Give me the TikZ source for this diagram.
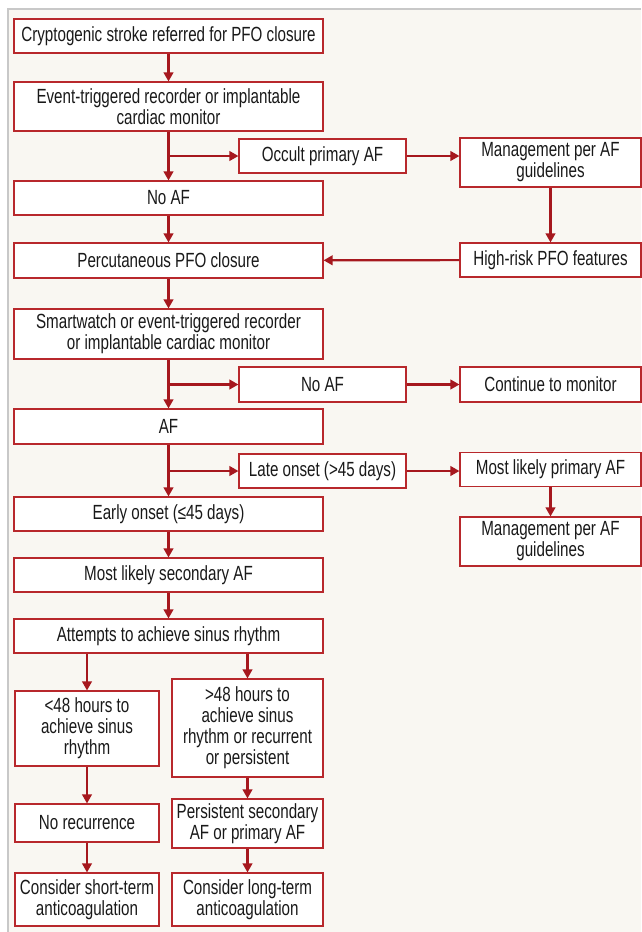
\documentclass[tikz,border=0pt]{standalone}
\usepackage{fontspec}
\setmainfont{Liberation Sans}[FakeStretch=0.74]
\usetikzlibrary{arrows.meta}
\definecolor{boxred}{RGB}{184,40,44}
\definecolor{arrred}{RGB}{166,24,30}
\definecolor{paper}{RGB}{249,247,242}
\definecolor{rule}{RGB}{200,200,200}
\tikzset{
  box/.style={draw=boxred,line width=1.1pt,fill=white,align=center,inner sep=0pt,
    font=\fontsize{20.5}{21}\selectfont,text=black!90},
  mainbox/.style={box,minimum width=309pt},
  sidebox/.style={box,minimum width=167pt},
  farbox/.style={box,minimum width=181pt},
  leftbox/.style={box,minimum width=144pt},
  rightbox/.style={box,minimum width=151pt},
  flow/.style={draw=arrred,line width=2.2pt,-{Triangle[length=9pt,width=9.5pt]}}
}
\begin{document}
\begin{tikzpicture}[x=1pt,y=-1pt]
\useasboundingbox (0,0) rectangle (641,932);
\fill [white] (0,0) rectangle (641,932);
\fill [paper] (7.5,8.5) rectangle (641,932);
\draw [rule,line width=2pt] (7.5,932) -- (7.5,8.5) -- (641,8.5);
\node [mainbox,minimum height=34pt] (stroke) at (168.5,36) {Cryptogenic stroke referred for PFO closure};
\node [mainbox,minimum height=49pt] (recorder) at (168.5,106.5) {Event-triggered recorder or implantable\\cardiac monitor};
\node [sidebox,minimum height=34pt] (occult) at (322.5,156) {Occult primary AF};
\node [farbox,minimum height=49pt] (mgmtA) at (550.5,162.5) {Management per AF\\guidelines};
\node [mainbox,minimum height=34pt] (noafA) at (168.5,198) {No AF};
\node [farbox,minimum height=34pt] (highrisk) at (550.5,260) {High-risk PFO features};
\node [mainbox,minimum height=35pt] (percut) at (168.5,260.5) {Percutaneous PFO closure};
\node [mainbox,minimum height=50pt] (smart) at (168.5,334) {Smartwatch or event-triggered recorder\\or implantable cardiac monitor};
\node [sidebox,minimum height=35pt] (noafB) at (322.5,384.5) {No AF};
\node [farbox,minimum height=35pt] (monitor) at (550.5,384.5) {Continue to monitor};
\node [mainbox,minimum height=35pt] (af) at (168.5,426.5) {AF};
\node [sidebox,minimum height=34pt] (late) at (322.5,471) {Late onset (>45 days)};
\node [farbox,minimum height=34pt] (primary) at (550.5,469.5) {Most likely primary AF};
\node [mainbox,minimum height=34pt] (early) at (168.5,514) {Early onset (≤45 days)};
\node [farbox,minimum height=49pt] (mgmtB) at (550.5,541.5) {Management per AF\\guidelines};
\node [mainbox,minimum height=34pt] (secondary) at (168.5,575) {Most likely secondary AF};
\node [mainbox,minimum height=34pt] (attempts) at (168.5,636) {Attempts to achieve sinus rhythm};
\node [leftbox,minimum height=75pt] (under48) at (87,728.5) {<48 hours to\\achieve sinus\\rhythm};
\node [rightbox,minimum height=98pt] (over48) at (247.5,728) {>48 hours to\\achieve sinus\\rhythm or recurrent\\or persistent};
\node [leftbox,minimum height=38pt] (norec) at (87,823) {No recurrence};
\node [rightbox,minimum height=49pt] (persist) at (247.5,823.5) {Persistent secondary\\AF or primary AF};
\node [leftbox,minimum height=53pt] (shortac) at (87,899.5) {Consider short-term\\anticoagulation};
\node [rightbox,minimum height=53pt] (longac) at (247.5,899.5) {Consider long-term\\anticoagulation};
\coordinate (splitA) at (recorder.south |- occult.west);
\coordinate (splitB) at (smart.south |- noafB.west);
\coordinate (splitC) at (af.south |- late.west);
\draw [flow] (stroke) -- (recorder);
\draw [flow] (recorder) -- (noafA);
\draw [flow] ([xshift=1.1pt]splitA) -- (occult.west);
\draw [flow] (occult.east) -- (occult.east -| mgmtA.west);
\draw [flow] (mgmtA) -- (highrisk);
\draw [flow] (highrisk) -- (percut);
\draw [flow] (noafA) -- (percut);
\draw [flow] (percut) -- (smart);
\draw [flow] (smart) -- (af);
\draw [flow] ([xshift=1.1pt]splitB) -- (noafB.west);
\draw [flow] (noafB) -- (monitor);
\draw [flow] (af) -- (early);
\draw [flow] ([xshift=1.1pt]splitC) -- (late.west);
\draw [flow] (late.east) -- (late.east -| primary.west);
\draw [flow] (primary) -- (mgmtB);
\draw [flow] (early) -- (secondary);
\draw [flow] (secondary) -- (attempts);
\draw [flow] (attempts.south -| under48.north) -- (under48.north);
\draw [flow] (attempts.south -| over48.north) -- (over48.north);
\draw [flow] (under48) -- (norec);
\draw [flow] (norec) -- (shortac);
\draw [flow] (over48) -- (persist);
\draw [flow] (persist) -- (longac);
\end{tikzpicture}
\end{document}
